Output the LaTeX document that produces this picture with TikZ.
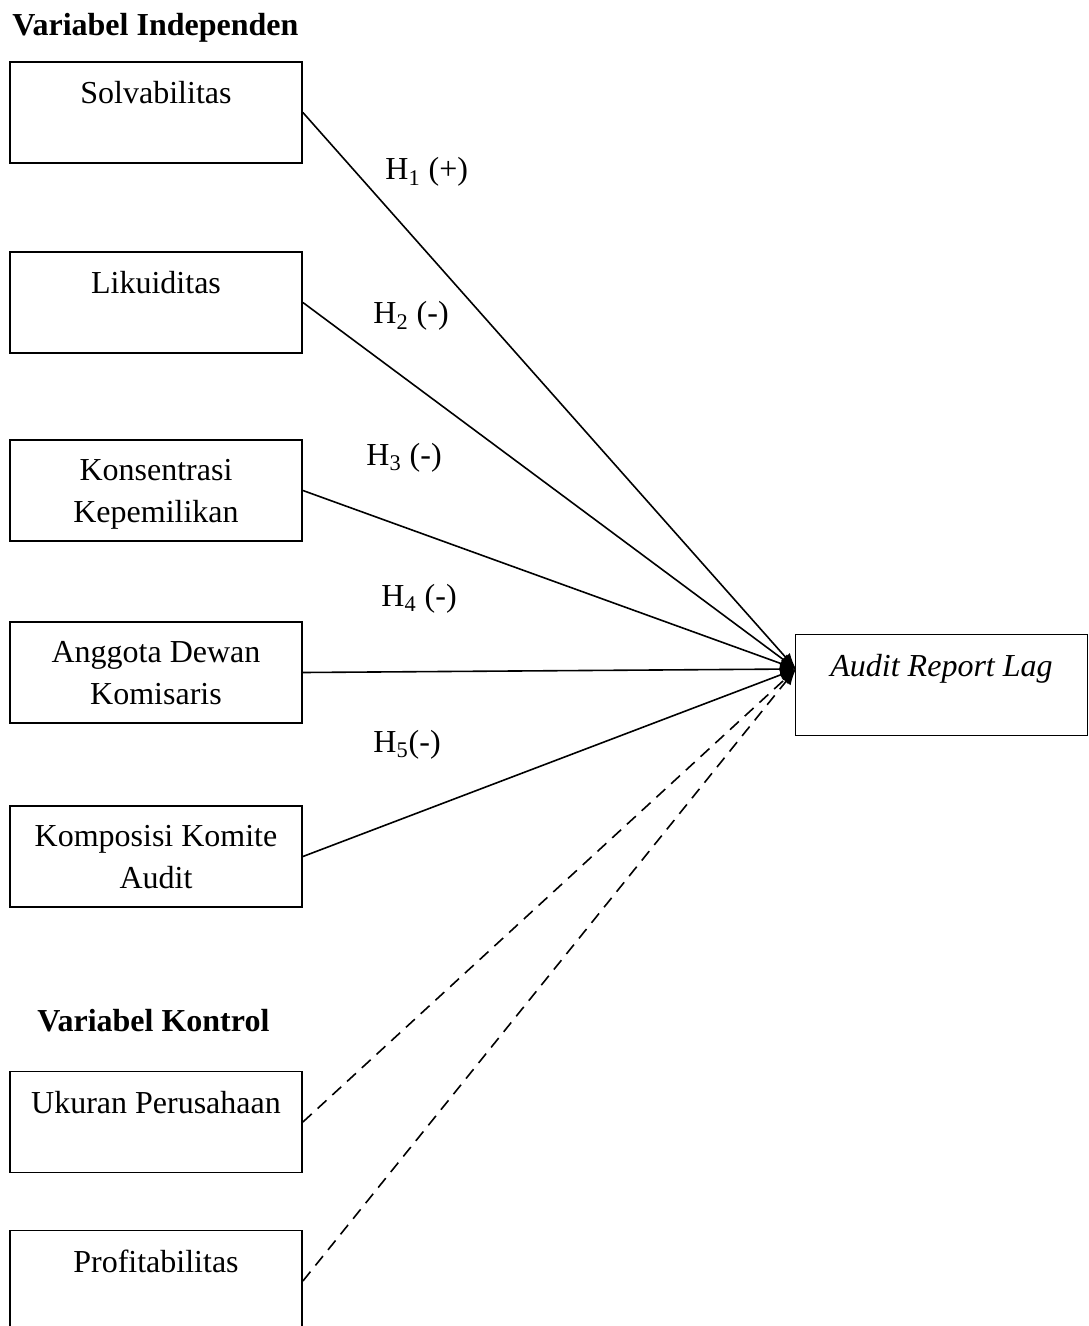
\documentclass[tikz,border=0pt]{standalone}
\usepackage{fontspec}
\setmainfont{Liberation Serif}
\usetikzlibrary{arrows.meta}
\tikzstyle{varbox}=[draw, line width=0.9pt, minimum width=146pt, minimum height=50.5pt, inner sep=0pt]
\tikzstyle{boxtext}=[anchor=north, inner sep=0pt, yshift=-10pt, align=center, font=\fontsize{16}{21}\selectfont]
\tikzstyle{hyp}=[anchor=base west, inner sep=0pt, font=\fontsize{16}{19}\selectfont]
\tikzstyle{head}=[anchor=base west, inner sep=0pt, font=\fontsize{16}{19}\selectfont\bfseries]
\tikzstyle{link}=[line width=0.8pt, -{Latex[length=8pt,width=6pt]}]
\tikzstyle{ctrl}=[link, dash pattern=on 6pt off 4pt]

\begin{document}
\begin{tikzpicture}[x=0.5pt, y=-0.5pt]
        \useasboundingbox (0, 0) rectangle (1088, 1326);
        \node[head] (indep) at (12, 36) {Variabel Independen};
        \node[head] (kontrol) at (37, 1031) {Variabel Kontrol};
        \node[varbox, label={[boxtext]north:Solvabilitas}]                 (solv) at (156, 112.5) {};
        \node[varbox, label={[boxtext]north:Likuiditas}]                   (liku) at (156, 302.5) {};
        \node[varbox, label={[boxtext]north:Konsentrasi\\Kepemilikan}]     (kons) at (156, 490.5) {};
        \node[varbox, label={[boxtext]north:Anggota Dewan\\Komisaris}]     (dekom) at (156, 672.5) {};
        \node[varbox, label={[boxtext]north:Komposisi Komite\\Audit}]      (komite) at (156, 856.5) {};
        \node[varbox, label={[boxtext]north:Ukuran Perusahaan}]            (size) at (156, 1122) {};
        \node[varbox, label={[boxtext]north:Profitabilitas}]               (prof) at (156, 1281) {};
        \node[varbox, label={[boxtext]north:\textit{Audit Report Lag}}]    (arl) at (941.5, 685) {};
        \coordinate (hub) at (796, 669);
        \draw[link] (solv.east) -- (hub);
        \draw[link] (liku.east) -- (hub);
        \draw[link] (kons.east) -- (hub);
        \draw[link] (dekom.east) -- (hub);
        \draw[link] (komite.east) -- (hub);
        \draw[ctrl] (size.east) -- (hub);
        \draw[ctrl] (prof.east) -- (hub);
        \node[hyp] (h1) at (385, 180) {H\textsubscript{1} (+)};
        \node[hyp] (h2) at (373, 324) {H\textsubscript{2} (-)};
        \node[hyp] (h3) at (366, 465) {H\textsubscript{3} (-)};
        \node[hyp] (h4) at (381, 606) {H\textsubscript{4} (-)};
        \node[hyp] (h5) at (373, 752) {H\textsubscript{5}(-)};
    \end{tikzpicture}
\end{document}
